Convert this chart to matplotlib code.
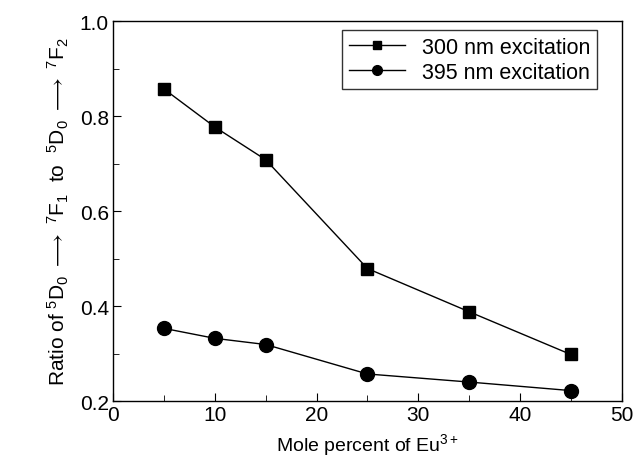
import matplotlib
matplotlib.use("Agg")
import matplotlib.pyplot as plt
from matplotlib.ticker import MultipleLocator

plt.rcParams['font.family'] = ['Liberation Sans', 'DejaVu Sans']
plt.rcParams['mathtext.fontset'] = 'custom'
plt.rcParams['mathtext.rm'] = 'Liberation Sans'
plt.rcParams['mathtext.it'] = 'Liberation Sans'

mole_percent = [5, 10, 15, 25, 35, 45]
ratio_300 = [0.857, 0.777, 0.708, 0.479, 0.388, 0.298]
ratio_395 = [0.353, 0.332, 0.319, 0.257, 0.240, 0.222]
labels = ["300 nm excitation", "395 nm excitation"]

fig = plt.figure(figsize=(6.39, 4.60), dpi=100)
ax = fig.add_axes([0.177, 0.126, 0.796, 0.826])

ax.plot(mole_percent, ratio_300, '-s', color='black', lw=1.0, ms=9, label=labels[0])
ax.plot(mole_percent, ratio_395, '-o', color='black', lw=1.0, ms=10, label=labels[1])

ax.set_xlim(0, 50)
ax.set_ylim(0.2, 1.0)
ax.xaxis.set_major_locator(MultipleLocator(10))
ax.xaxis.set_minor_locator(MultipleLocator(5))
ax.yaxis.set_major_locator(MultipleLocator(0.2))
ax.yaxis.set_minor_locator(MultipleLocator(0.1))
ax.tick_params(which='both', direction='in', top=False, right=False, labelsize=15)
ax.tick_params(which='major', length=6, pad=3)
ax.tick_params(which='minor', length=4)

ax.set_xlabel(r"Mole percent of Eu$^{3+}$", fontsize=14, labelpad=5)
ax.set_ylabel(r"Ratio of $^{5}$D$_{0}$ $\longrightarrow$ $^{7}$F$_{1}$  to  $^{5}$D$_{0}$ $\longrightarrow$ $^{7}$F$_{2}$",
              fontsize=15, labelpad=6)

leg = ax.legend(loc='upper right', bbox_to_anchor=(0.951, 0.976), bbox_transform=ax.transAxes,
                borderaxespad=0, fontsize=15.5, frameon=True, fancybox=False,
                edgecolor='black', handlelength=2.6, labelspacing=0.2,
                markerscale=0.7, borderpad=0.3, handletextpad=0.8)
leg.get_frame().set_linewidth(1.0)

for s in ax.spines.values():
    s.set_linewidth(1.0)

fig.savefig("out.png", dpi=100)
